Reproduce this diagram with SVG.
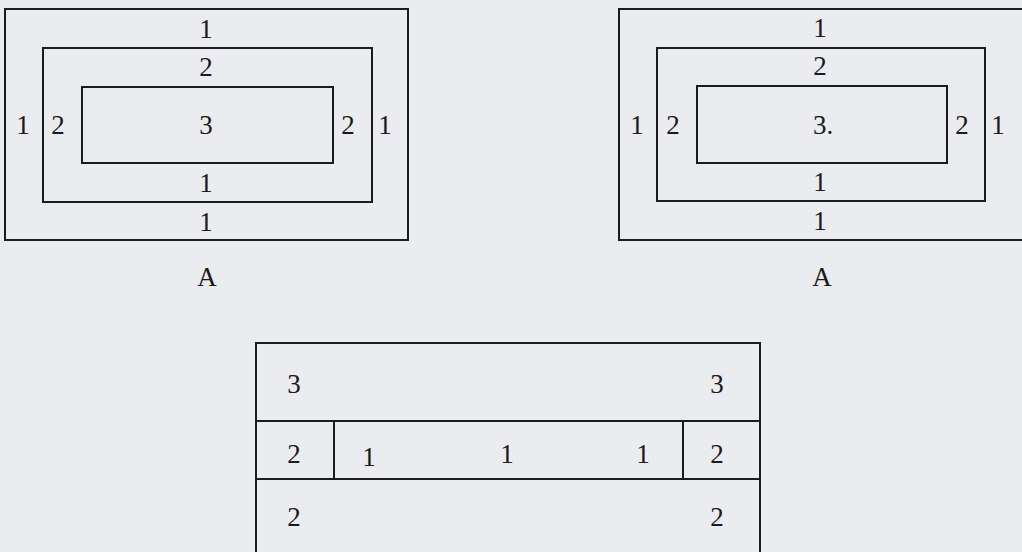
<svg xmlns="http://www.w3.org/2000/svg" width="1022" height="552" viewBox="0 0 1022 552">
<style>
.b{fill:none;stroke:#1c1c1c;stroke-width:2}
.l{stroke:#1c1c1c;stroke-width:2}
text{font-family:'Liberation Serif','Times New Roman',serif;font-size:27px;fill:#1a1a1a;text-anchor:middle}
</style>
<rect width="1022" height="552" fill="#eaecef"/>
<g id="diagramA1" font-family="Liberation Serif, serif">
<rect class="b" x="5" y="9" width="403" height="231"/>
<rect class="b" x="43" y="48" width="329" height="154"/>
<rect class="b" x="82" y="87" width="251" height="76"/>
<text x="206" y="38">1</text>
<text x="206" y="76">2</text>
<text x="206" y="134">3</text>
<text x="206" y="192">1</text>
<text x="206" y="231">1</text>
<text x="23" y="134">1</text>
<text x="58" y="134">2</text>
<text x="348" y="134">2</text>
<text x="385" y="134">1</text>
<text x="207" y="286">A</text>
</g>
<g id="diagramA2" font-family="Liberation Serif, serif">
<rect class="b" x="619" y="9" width="406" height="231"/>
<rect class="b" x="657" y="48" width="328" height="153"/>
<rect class="b" x="697" y="86" width="250" height="77"/>
<text x="820" y="37">1</text>
<text x="820" y="75">2</text>
<text x="823" y="134">3.</text>
<text x="820" y="191">1</text>
<text x="820" y="230">1</text>
<text x="637" y="134">1</text>
<text x="673" y="134">2</text>
<text x="962" y="134">2</text>
<text x="998" y="134">1</text>
<text x="822" y="286">A</text>
</g>
<g id="layout" font-family="Liberation Serif, serif">
<rect class="b" x="256" y="343" width="504" height="220"/>
<line class="l" x1="256" y1="421" x2="760" y2="421"/>
<line class="l" x1="256" y1="479" x2="760" y2="479"/>
<line class="l" x1="334" y1="421" x2="334" y2="479"/>
<line class="l" x1="683" y1="421" x2="683" y2="479"/>
<text x="294" y="393">3</text>
<text x="717" y="393">3</text>
<text x="294" y="463">2</text>
<text x="369" y="466">1</text>
<text x="507" y="463">1</text>
<text x="643" y="463">1</text>
<text x="717" y="463">2</text>
<text x="294" y="526">2</text>
<text x="717" y="526">2</text>
</g>
</svg>
